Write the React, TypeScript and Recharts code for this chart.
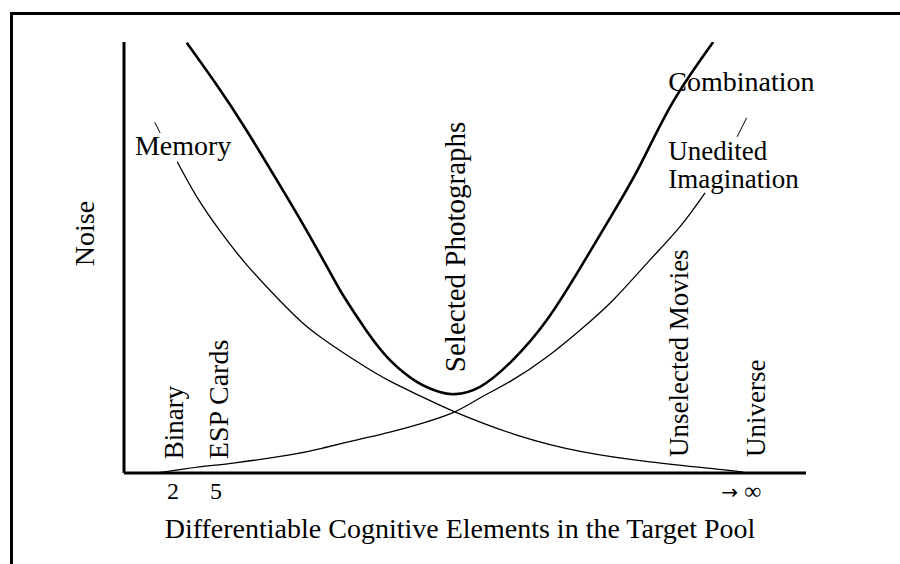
import React from 'react';
import { LineChart, Line, XAxis, YAxis, ReferenceDot, ReferenceLine, Label } from 'recharts';

// Curve samples (x: position along the target-pool axis, 0-100; y: noise, 0-100)
const combinationX = [9.2, 13.6, 18.0, 23.9, 27.3, 30.2, 32.1, 35.6, 39.0, 43.0, 46.3, 48.5, 52.2, 57.0, 62.0, 66.9, 71.7, 75.7, 80.5, 86.4];
const combinationY = [99.8, 90.0, 79.4, 64.0, 54.8, 46.6, 41.3, 32.9, 26.2, 21.1, 18.8, 18.3, 20.0, 26.2, 35.5, 47.6, 60.3, 71.5, 86.1, 100];
const memoryX = [7.8, 10.7, 14.1, 18.0, 22.9, 26.2, 29.2, 34.2, 39.0, 43.8, 48.5, 57.6, 67.3, 77.1, 86.9, 90.8];
const memoryY = [72.2, 64.0, 56.1, 48.3, 39.9, 34.8, 31.1, 25.8, 21.3, 17.6, 14.2, 8.8, 4.9, 2.6, 0.9, 0.2];
const imaginationX = [4.8, 11.1, 16.0, 24.3, 29.2, 34.2, 39.0, 43.8, 48.5, 52.2, 57.0, 62.0, 66.9, 71.7, 76.7, 81.5, 85.2];
const imaginationY = [0, 1.4, 2.3, 4.2, 5.8, 7.7, 9.5, 11.6, 14.2, 17.4, 21.6, 26.9, 33.2, 40.1, 48.7, 57.1, 65.0];

// X-axis ticks
const tickValues = [7.2, 13.5, 91.1];
const tickLabels = ['2', '5', '\u221E'];
const tickPrefix = ['', '', '\u2192'];

// Curve names placed horizontally
const curveLabels = ['Memory', 'Combination', 'Unedited', 'Imagination'];
const curveLabelX = [1.6, 79.8, 79.8, 79.8];
const curveLabelY = [73.8, 88.6, 72.6, 66.1];
const curveLabelSize = [28, 28, 27, 27];

// Target-pool kinds placed vertically
const poolLabels = ['Binary', 'ESP Cards', 'Selected Photographs', 'Unselected Movies', 'Universe'];
const poolLabelX = [8.65, 15.2, 50.0, 82.7, 94.0];
const poolLabelY = [3.2, 3.2, 23.4, 3.7, 3.7];
const poolLabelSize = [27, 28, 29, 27, 27];

const zip = (xs: number[], ys: number[]) => xs.map((x, i) => ({ x, y: ys[i] }));
const combination = zip(combinationX, combinationY);
const memory = zip(memoryX, memoryY);
const imagination = zip(imaginationX, imaginationY);

const FONT = '"Liberation Serif", "Times New Roman", serif';

const textAt = (text: string, rotate: boolean, anchor: 'start' | 'middle' | 'end', size: number, dx = 0, dy = 0) =>
  (props: any) => {
    const vb = props.viewBox || {};
    const x = (vb.x ?? 0) + (vb.width ?? 0) / 2 + dx;
    const y = (vb.y ?? 0) + (vb.height ?? 0) / 2 + dy;
    return (
      <text
        x={x}
        y={y}
        textAnchor={anchor}
        fontFamily={FONT}
        fontSize={size}
        fill="#000"
        transform={rotate ? `rotate(-90 ${x} ${y})` : undefined}
      >
        {text}
      </text>
    );
  };

const XTick = (props: any) => {
  const { x, y, payload, index } = props;
  let i = tickValues.indexOf(payload.value);
  if (i < 0) i = index;
  const label = tickLabels[i] ?? '';
  const prefix = tickPrefix[i] ?? '';
  return (
    <text x={x} y={y + 26} textAnchor="middle" fontFamily={FONT} fontSize={24} fill="#000">
      {prefix ? (
        <tspan fontFamily='"DejaVu Sans", sans-serif' fontSize={20} dx={-4}>
          {prefix}
        </tspan>
      ) : null}
      <tspan dx={prefix ? 6 : 0}>{label}</tspan>
    </text>
  );
};

export default function App() {
  return (
    <div style={{ position: 'absolute', left: 0, top: 0, width: 900, height: 564, overflow: 'hidden', background: '#fff' }}>
      <div
        style={{
          position: 'absolute',
          left: 10,
          top: 12,
          width: 1000,
          height: 700,
          borderLeft: '3px solid #000',
          borderTop: '3px solid #000',
        }}
      />
      <div style={{ position: 'absolute', left: 0, top: 0 }}>
        <LineChart width={900} height={564} margin={{ top: 42, right: 94, bottom: 61, left: 64 }}>
          <XAxis
            type="number"
            dataKey="x"
            domain={[0, 100]}
            ticks={tickValues}
            interval={0}
            tick={<XTick />}
            tickLine={false}
            tickSize={0}
            tickMargin={0}
            height={30}
            axisLine={{ stroke: '#000', strokeWidth: 3 }}
            allowDataOverflow
          >
            <Label content={textAt('Differentiable Cognitive Elements in the Target Pool', false, 'middle', 28, -5, 50)} />
          </XAxis>
          <YAxis
            type="number"
            domain={[0, 100]}
            tick={false}
            tickLine={false}
            width={60}
            axisLine={{ stroke: '#000', strokeWidth: 3 }}
            allowDataOverflow
          >
            <Label content={textAt('Noise', true, 'middle', 28, 0, -24)} />
          </YAxis>
          <Line data={memory} dataKey="y" type="natural" stroke="#000" strokeWidth={1.3} dot={false} activeDot={false} isAnimationActive={false} />
          <Line data={imagination} dataKey="y" type="natural" stroke="#000" strokeWidth={1.3} dot={false} activeDot={false} isAnimationActive={false} />
          <Line data={combination} dataKey="y" type="natural" stroke="#000" strokeWidth={2.6} dot={false} activeDot={false} isAnimationActive={false} />
          <ReferenceLine segment={[{ x: 4.5, y: 81.4 }, { x: 5.3, y: 78.9 }]} stroke="#000" strokeWidth={1} ifOverflow="visible" />
          <ReferenceLine segment={[{ x: 91.3, y: 82.4 }, { x: 89.9, y: 78.0 }]} stroke="#000" strokeWidth={1} ifOverflow="visible" />
          {curveLabels.map((t, i) => (
            <ReferenceDot
              key={t}
              x={curveLabelX[i]}
              y={curveLabelY[i]}
              r={0}
              fill="none"
              stroke="none"
              ifOverflow="visible"
              label={{ content: textAt(t, false, 'start', curveLabelSize[i]) }}
            />
          ))}
          {poolLabels.map((t, i) => (
            <ReferenceDot
              key={t}
              x={poolLabelX[i]}
              y={poolLabelY[i]}
              r={0}
              fill="none"
              stroke="none"
              ifOverflow="visible"
              label={{ content: textAt(t, true, 'start', poolLabelSize[i]) }}
            />
          ))}
        </LineChart>
      </div>
    </div>
  );
}
